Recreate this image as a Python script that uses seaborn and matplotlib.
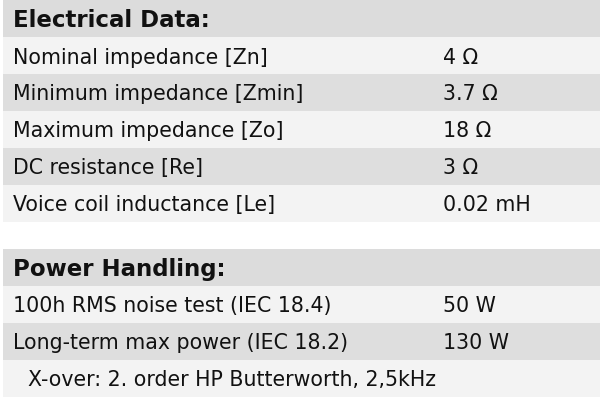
import matplotlib
matplotlib.use("Agg")
import matplotlib.pyplot as plt
import seaborn as sns

sns.set_theme(style="white")
plt.rcParams['font.family'] = ['DejaVu Sans']

sec1_title = "Electrical Data:"
sec1_labels = ["Nominal impedance [Zn]", "Minimum impedance [Zmin]", "Maximum impedance [Zo]",
               "DC resistance [Re]", "Voice coil inductance [Le]"]
sec1_values = ["4 Ω", "3.7 Ω", "18 Ω", "3 Ω", "0.02 mH"]
sec2_title = "Power Handling:"
sec2_labels = ["100h RMS noise test (IEC 18.4)", "Long-term max power (IEC 18.2)"]
sec2_values = ["50 W", "130 W"]
footnote = "X-over: 2. order HP Butterworth, 2,5kHz"

HEAD = "#dcdcdc"; DARK = "#dedede"; LIGHT = "#f3f3f3"
fig = plt.figure(figsize=(6, 4.02), dpi=100)
ax = fig.add_axes([0, 0, 1, 1])
ax.set_xlim(0, 600); ax.set_ylim(402, 0); ax.axis("off")
h = 37
fs = 14.8

def band(y, color):
    ax.add_patch(plt.Rectangle((3, y), 597, h, color=color, lw=0))

def section(y0, title, labels, values):
    band(y0, HEAD)
    ax.text(13, y0 + h/2 + 1, title, fontsize=16.5, fontweight="bold", va="center", color="#111")
    y = y0 + h
    for i, (l, v) in enumerate(zip(labels, values)):
        band(y, LIGHT if i % 2 == 0 else DARK)
        ax.text(13, y + h/2 + 1, l, fontsize=fs, va="center", color="#111")
        ax.text(443, y + h/2 + 1, v, fontsize=fs, va="center", color="#111")
        y += h
    return y

section(1, sec1_title, sec1_labels, sec1_values)
y = section(250, sec2_title, sec2_labels, sec2_values)
band(y, LIGHT)
ax.text(28, y + h/2 + 1, footnote, fontsize=fs, va="center", color="#111")
fig.savefig("out.png", dpi=100)
